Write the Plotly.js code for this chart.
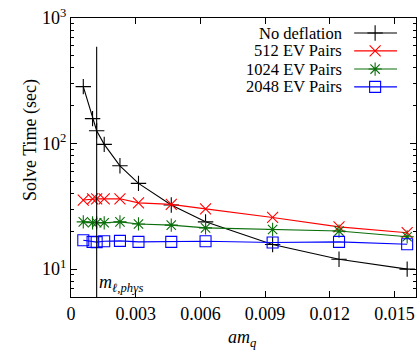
<!DOCTYPE html>
<html><head><meta charset="utf-8">
<script src="https://cdn.plot.ly/plotly-3.0.1.min.js"></script>
<style>html,body{margin:0;padding:0;background:#fff}#plot{width:417px;height:350px}</style>
</head><body><div id="plot"></div>
<script>
// ---- data ----
const massX = [0.00057, 0.00100, 0.00119, 0.00154, 0.00227, 0.00313, 0.00465, 0.00624, 0.00935, 0.01243, 0.01559];
const noDeflation = [284, 158, 126.5, 98.6, 66.5, 48.2, 32.4, 23.8, 15.7, 12.0, 10.0];
const ev512 = [35.5, 36.3, 36.3, 36.3, 36.3, 33.7, 32.8, 30.2, 25.8, 21.7, 19.5];
const ev1024 = [23.8, 23.4, 23.4, 23.4, 23.8, 22.9, 22.4, 21.3, 20.7, 20.1, 18.1];
const ev2048 = [17.0, 16.5, 16.4, 16.7, 16.8, 16.5, 16.5, 16.7, 16.3, 16.5, 15.8];
const seriesNames = ['No deflation', '512 EV Pairs', '1024 EV Pairs', '2048 EV Pairs'];
const physMassX = [0.00119, 0.00119];
const physMassY = [6, 590];
const xTickVals = [0, 0.003, 0.006, 0.009, 0.012, 0.015];
const xTickText = ['0', '0.003', '0.006', '0.009', '0.012', '0.015'];
const yTickVals = [10, 100, 1000];
const yTickText = ['10<sup>1</sup>', '10<sup>2</sup>', '10<sup>3</sup>'];

const FONT = "'Liberation Serif', 'DejaVu Serif', serif";
const colors = ['#000000', '#ff0000', '#0a6e0a', '#0000ff'];
const symbols = ['cross-thin-open', 'x-thin-open', 'asterisk-open', 'square-open'];
const sizes = [11, 11, 11, 11];
const ys = [noDeflation, ev512, ev1024, ev2048];

const traces = [];
ys.forEach((y, i) => {
  traces.push({
    x: massX, y: y, type: 'scatter', mode: 'lines+markers', name: seriesNames[i],
    showlegend: false,
    line: {color: colors[i], width: 1.1},
    marker: {symbol: symbols[i], size: sizes[i], color: colors[i], line: {color: colors[i], width: 1.1}}
  });
});
traces.push({x: physMassX, y: physMassY, type: 'scatter', mode: 'lines', showlegend: false,
  line: {color: '#000', width: 1.1}, hoverinfo: 'skip'});

// custom gnuplot-style legend (text left of sample)
const legRowY = [0.946, 0.882, 0.817, 0.753];
const annotations = [];
ys.forEach((y, i) => {
  traces.push({x: [0.8208, 0.8815, 0.945], y: [legRowY[i], legRowY[i], legRowY[i]],
    xaxis: 'x2', yaxis: 'y2', type: 'scatter', mode: 'lines', showlegend: false, hoverinfo: 'skip',
    line: {color: colors[i], width: 1.1}});
  traces.push({x: [0.8815], y: [legRowY[i]], xaxis: 'x2', yaxis: 'y2', type: 'scatter', mode: 'markers',
    showlegend: false, hoverinfo: 'skip',
    marker: {symbol: symbols[i], size: sizes[i], color: colors[i], line: {color: colors[i], width: 1.1}}});
  annotations.push({xref: 'paper', yref: 'paper', x: 0.788, y: legRowY[i], xanchor: 'right', yanchor: 'middle',
    borderpad: 0, text: seriesNames[i], showarrow: false, font: {family: FONT, size: 16.5, color: '#000'}});
});
annotations.push({xref: 'x', yref: 'paper', x: 0.00121, y: 0.0, xanchor: 'left', yanchor: 'bottom', yshift: 0,
  text: '<i>m</i><sub><i>ℓ,phys</i></sub>', showarrow: false, font: {family: FONT, size: 18, color: '#000'}});
// axis titles
annotations.push({xref: 'paper', yref: 'paper', x: (30 - 71) / 345, y: 1 - (140 - 18) / 279, xanchor: 'center', yanchor: 'middle',
  textangle: -90, text: 'Solve Time (sec)', showarrow: false, font: {family: FONT, size: 18, color: '#000'}});
annotations.push({xref: 'paper', yref: 'paper', x: (242 - 71) / 345, y: -(338 - 297) / 279, xanchor: 'center', yanchor: 'middle',
  text: '<i>am</i><sub><i>q</i></sub>', showarrow: false, font: {family: FONT, size: 18, color: '#000'}});

const layout = {
  width: 417, height: 350,
  margin: {l: 71, r: 1, t: 18, b: 53},
  paper_bgcolor: '#fff', plot_bgcolor: '#fff',
  font: {family: FONT, size: 18, color: '#000'},
  showlegend: false,
  xaxis: {range: [0, 0.016], tickvals: xTickVals, ticktext: xTickText, ticks: 'inside', ticklen: 6,
    tickcolor: '#000', showline: true, linecolor: '#000', linewidth: 1.2, mirror: 'ticks', showgrid: false,
    zeroline: false, tickfont: {family: FONT, size: 18}},
  yaxis: {type: 'log', range: [Math.log10(6), 3], tickvals: yTickVals, ticktext: yTickText, ticks: 'inside', ticklen: 6,
    tickcolor: '#000', showline: true, linecolor: '#000', linewidth: 1.2, mirror: 'ticks', showgrid: false,
    zeroline: false, tickfont: {family: FONT, size: 18},
    minor: {ticks: 'inside', ticklen: 3, tickcolor: '#000', showgrid: false, dtick: 'D1'}},
  xaxis2: {overlaying: 'x', range: [0, 1], visible: false, fixedrange: true},
  yaxis2: {overlaying: 'y', range: [0, 1], visible: false, fixedrange: true},
  annotations: annotations
};
Plotly.newPlot('plot', traces, layout, {displayModeBar: false, staticPlot: true});
</script></body></html>
